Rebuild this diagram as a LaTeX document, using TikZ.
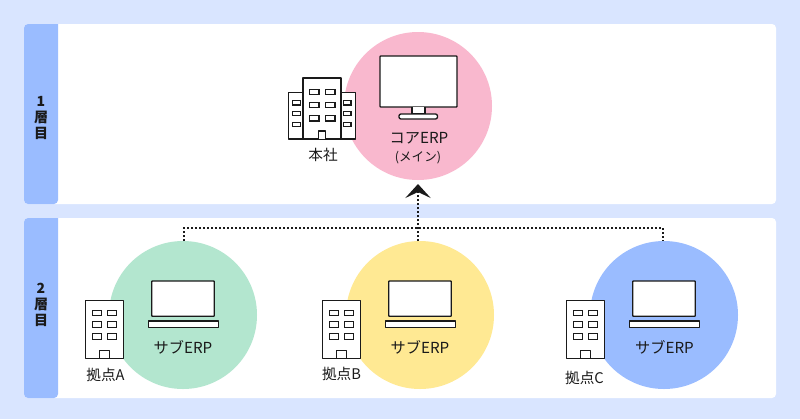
\documentclass[tikz,border=0pt]{standalone}
\usepackage{fontspec}
\setmainfont{Noto Sans CJK JP}
\usetikzlibrary{arrows.meta}
\definecolor{bgblue}{HTML}{D9E5FF}
\definecolor{band}{HTML}{9ABCFF}
\definecolor{cpink}{HTML}{F9B8CE}
\definecolor{cgreen}{HTML}{B3E6CF}
\definecolor{cyellow}{HTML}{FFE993}
\definecolor{cblue}{HTML}{9ABCFF}
\definecolor{ink}{HTML}{1A1A1A}
\tikzset{
  outline/.style={draw=ink,line width=1pt,fill=white,line join=round},
  win/.style={draw=ink,line width=0.8pt,fill=white},
  erpcircle/.style={circle,minimum size=111pt,inner sep=0pt,outer sep=0pt},
  lbl/.style={text=ink,inner sep=0pt,font=\fontsize{11.4pt}{13pt}\selectfont},
  small/.style={text=ink,inner sep=0pt,font=\fontsize{9.4pt}{11pt}\selectfont},
  place/.style={text=ink,inner sep=0pt,font=\fontsize{11pt}{13pt}\selectfont},
  tier/.style={text=ink,inner sep=0pt,font=\bfseries\fontsize{10.5pt}{12pt}\selectfont},
  link/.style={draw=ink,line width=1.5pt,dash pattern=on 1.5pt off 1.5pt},
}
\newcommand{\branchicons}[1]{%
  \begin{scope}[xshift=#1*0.75pt]
    \draw[outline] (85.3,300.3) rectangle (123.7,358.3);
    \foreach \wy/\wz in {310.7/315.3,321.7/327.3,333.7/339.3}{
      \draw[win] (92.3,\wy) rectangle (101.7,\wz);
      \draw[win] (107.3,\wy) rectangle (116.7,\wz);
    }
    \draw[outline] (99.3,358.3) -- (99.3,350.3) -- (109.3,350.3) -- (109.3,358.3);
    \draw[outline,rounded corners=0.5pt] (151.7,281) rectangle (214.3,316.3);
    \draw[outline] (148.3,321) rectangle (218.3,327.3);
  \end{scope}}
\begin{document}
\begin{tikzpicture}[x=0.75pt,y=-0.75pt]
\useasboundingbox (0,0) rectangle (800,419);
\fill[bgblue] (0,0) rectangle (800,419);
% panels
\fill[white,rounded corners=3pt] (24,24) rectangle (776,204);
\fill[white,rounded corners=3pt] (24,218) rectangle (776,398);
\fill[band,rounded corners=3pt] (58,24) -- (24,24) -- (24,204) -- (58,204) [sharp corners] -- cycle;
\fill[band,rounded corners=3pt] (58,218) -- (24,218) -- (24,398) -- (58,398) [sharp corners] -- cycle;
% tier labels
\node[tier] (t1a) at (41,101) {1};
\node[tier] (t1b) at (41,117) {層};
\node[tier] (t1c) at (41,133) {目};
\node[tier] (t2a) at (41,288) {2};
\node[tier] (t2b) at (41,304.5) {層};
\node[tier] (t2c) at (41,320.5) {目};
% circles
\node[erpcircle,fill=cpink] (core) at (418,106) {};
\node[erpcircle,fill=cgreen] (subA) at (183,315) {};
\node[erpcircle,fill=cyellow] (subB) at (420,315) {};
\node[erpcircle,fill=cblue] (subC) at (664,315) {};
% connectors
\coordinate (busL) at (184,228);
\coordinate (busM) at (418,228);
\coordinate (busR) at (663,228);
\coordinate (dropL) at (184,241);
\coordinate (dropM) at (418,241);
\coordinate (dropR) at (663,241);
\coordinate (tip) at (418,184);
\draw[link] (dropL) -- (busL) -- (busR) -- (dropR);
\draw[link,-{Stealth[length=10.5pt,width=19pt,inset=4.5pt,sep=0pt]}] (dropM) -- (tip);
% HQ monitor
\draw[outline,fill=white,rounded corners=0.5pt] (380,56) rectangle (457,107);
\draw[outline] (412,107) -- (412,114) -- (425,114) -- (425,107);
\draw[outline,rounded corners=1.5pt] (399,114) rectangle (437.5,119);
% HQ building
\draw[outline] (288.5,92.7) rectangle (303,139);
\draw[outline] (341,92.7) rectangle (355.5,139);
\draw[outline] (303,78) rectangle (341,139);
\foreach \wy/\wz in {89.5/94.5,102.5/107.5,115.5/121}{
  \draw[win] (309.5,\wy) rectangle (319,\wz);
  \draw[win] (325.5,\wy) rectangle (335,\wz);
}
\foreach \wy/\wz in {100.7/105,111.5/115.7,122.3/126.7}{
  \draw[win] (292.7,\wy) rectangle (300.7,\wz);
  \draw[win] (343.3,\wy) rectangle (351,\wz);
}
\draw[outline] (318.3,139) -- (318.3,131) -- (325.7,131) -- (325.7,139);
% branches
\branchicons{0}
\branchicons{237}
\branchicons{481}
% labels
\node[lbl] (coreL) at (419,138) {コアERP};
\node[small] (coreM) at (418,157.5) {(メイン)};
\node[place] (hq) at (323,154.5) {本社};
\node[lbl] (la) at (183,347) {サブERP};
\node[lbl] (lb) at (420,347) {サブERP};
\node[lbl] (lc) at (664.5,347) {サブERP};
\node[place] (ba) at (105.5,375) {拠点A};
\node[place] (bb) at (341.5,374) {拠点B};
\node[place] (bc) at (584.5,377.5) {拠点C};
\end{tikzpicture}
\end{document}
